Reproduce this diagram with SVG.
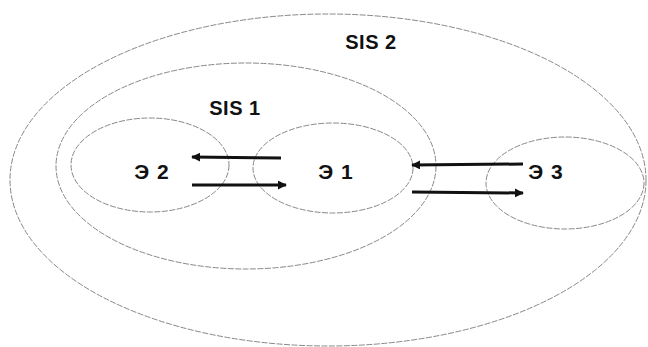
<svg xmlns="http://www.w3.org/2000/svg" width="648" height="347" viewBox="0 0 648 347">
<defs>
<style>
.ring{fill:none;stroke:#7a7a7a;stroke-width:0.9;stroke-dasharray:6 1.5}
.lbl{font-family:"Liberation Sans",Arial,sans-serif;font-weight:bold;font-size:20px;fill:#111;text-anchor:middle;letter-spacing:0.5px}
.el{font-size:21px;letter-spacing:1px}
.arr{stroke:#111;stroke-width:3;fill:none;marker-end:url(#ah)}
</style>
<marker id="ah" viewBox="0 0 10 10" refX="9" refY="5" markerWidth="3.2" markerHeight="3" orient="auto" markerUnits="strokeWidth">
<path d="M0,0 L10,5 L0,10 Z" fill="#111"/>
</marker>
</defs>
<rect width="648" height="347" fill="#fff"/>
<g id="sis2"><ellipse class="ring" cx="328" cy="180" rx="318" ry="166"/><text class="lbl" x="371" y="49">SIS 2</text></g>
<g id="sis1"><ellipse class="ring" cx="246" cy="166" rx="190" ry="103"/><text class="lbl" x="235" y="115">SIS 1</text></g>
<g id="e2"><ellipse class="ring" cx="150" cy="165" rx="79" ry="47"/><text class="lbl el" x="152" y="179">Э 2</text></g>
<g id="e1"><ellipse class="ring" cx="333" cy="168" rx="80" ry="45"/><text class="lbl el" x="336" y="179">Э 1</text></g>
<g id="e3"><ellipse class="ring" cx="565" cy="183" rx="79" ry="46"/><text class="lbl el" x="546" y="179">Э 3</text></g>
<g id="connectors">
<line class="arr" x1="281" y1="158" x2="192" y2="157"/>
<line class="arr" x1="192" y1="185" x2="286" y2="185"/>
<line class="arr" x1="523" y1="164" x2="412" y2="165"/>
<line class="arr" x1="412" y1="192" x2="523" y2="193"/>
</g>
</svg>
